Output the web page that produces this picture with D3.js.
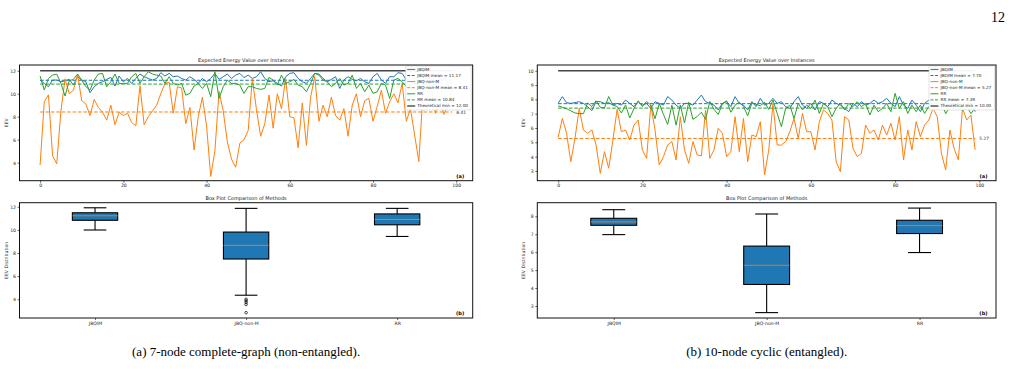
<!DOCTYPE html>
<html>
<head>
<meta charset="utf-8">
<script src="https://cdn.jsdelivr.net/npm/d3@7"></script>
<style>
  body { margin: 0; background: #fff; }
  svg { display: block; }
</style>
</head>
<body>
<div class="figure"></div>
<script>
const methods = ['JBQIM', 'JBQ-non-M', 'RR'];
const colors = ['#1f77b4', '#ff7f0e', '#2ca02c'];

// (a) 7-node complete graph, EEV per instance
const aJBQIM = [11.19, 10.90, 10.61, 11.19, 11.19, 11.04, 11.13, 11.25, 10.75, 11.48,
  11.19, 11.04, 10.09, 10.61, 10.90, 11.04, 11.25, 11.42, 10.67, 11.54,
  11.04, 11.33, 10.90, 11.33, 11.71, 11.48, 11.33, 11.19, 11.33, 11.83,
  11.54, 11.77, 11.48, 11.54, 11.33, 11.19, 11.48, 11.25, 10.90, 11.33,
  11.04, 11.33, 11.77, 11.25, 11.48, 11.71, 11.33, 11.62, 11.77, 11.40,
  11.62, 11.33, 11.48, 11.91, 11.33, 11.04, 11.13, 10.90, 10.67, 11.48,
  11.77, 11.83, 11.33, 11.04, 10.90, 11.33, 11.77, 11.71, 11.33, 11.04,
  11.25, 11.48, 10.46, 11.19, 11.48, 11.25, 11.13, 11.33, 11.04, 10.90,
  11.48, 11.77, 11.19, 10.90, 11.48, 11.48, 11.83, 11.77, 11.20, 11.00,
  11.40, 11.10, 10.90, 11.30, 11.50, 11.00, 11.20, 11.40, 11.10, 11.30];
const aNonM = [3.8, 9.3, 9.9, 4.6, 3.9, 8.5, 11.3, 10.0, 10.3, 11.7,
  9.4, 9.1, 8.1, 9.5, 8.8, 8.4, 7.7, 9.0, 7.3, 8.4,
  8.1, 8.3, 7.5, 7.2, 10.7, 7.3, 8.0, 8.5, 9.0, 10.0,
  10.9, 11.0, 8.3, 10.6, 10.5, 7.4, 8.8, 5.1, 8.0, 9.7,
  7.2, 2.8, 5.0, 10.2, 8.5, 5.8, 4.3, 3.6, 5.7, 6.0,
  6.8, 11.3, 8.6, 6.3, 7.4, 9.9, 7.0, 10.0, 8.7, 11.3,
  8.0, 7.9, 5.3, 9.2, 5.5, 9.7, 11.5, 7.6, 9.0, 8.0,
  9.7, 8.1, 7.7, 8.7, 6.3, 9.0, 10.0, 8.0, 9.4, 9.6,
  7.6, 8.9, 10.3, 8.3, 9.3, 10.0, 9.2, 10.9, 7.6, 8.7,
  6.4, 4.1, 10.0, 9.5, 10.5, 8.3, 9.8, 8.2, 9.0, 10.5];
const aRR = [11.54, 10.32, 11.33, 11.62, 11.71, 10.90, 9.80, 11.13, 11.25, 11.71,
  11.19, 10.61, 10.32, 11.19, 11.71, 11.77, 10.61, 11.04, 11.71, 10.90,
  10.90, 10.90, 11.48, 11.77, 10.90, 11.48, 11.91, 11.71, 11.62, 11.54,
  10.90, 11.48, 10.90, 10.75, 10.90, 9.88, 10.03, 10.67, 10.90, 10.46,
  10.90, 9.74, 11.91, 9.59, 10.61, 11.19, 10.90, 10.90, 10.75, 10.03,
  10.61, 10.61, 10.46, 10.38, 10.46, 11.42, 11.19, 10.75, 11.62, 10.90,
  11.04, 11.25, 10.75, 10.61, 10.17, 10.90, 11.77, 11.62, 11.19, 11.04,
  10.61, 10.90, 11.33, 10.75, 10.90, 11.62, 10.46, 10.90, 10.17, 10.75,
  10.03, 10.17, 10.90, 10.75, 9.59, 11.19, 11.33, 11.04, 10.61, 10.80,
  11.00, 10.60, 11.20, 10.90, 10.70, 11.10, 10.80, 11.30, 10.90, 11.00];

// (b) 10-node cyclic, EEV per instance
const bJBQIM = [7.72, 8.19, 7.77, 7.72, 7.77, 7.84, 7.72, 7.49, 7.21, 7.84,
  7.84, 7.72, 7.77, 7.60, 7.72, 7.60, 7.95, 7.72, 7.49, 7.84,
  7.60, 7.72, 7.37, 7.84, 7.72, 7.60, 8.19, 7.95, 7.60, 7.37,
  7.72, 7.72, 7.60, 7.95, 8.30, 7.84, 7.72, 7.60, 7.26, 7.72,
  7.84, 7.49, 8.19, 7.72, 7.60, 7.26, 7.84, 7.49, 8.07, 7.60,
  7.72, 8.07, 7.72, 7.84, 7.49, 7.37, 7.84, 8.19, 7.60, 7.37,
  7.72, 7.26, 7.84, 7.72, 7.49, 7.95, 7.72, 7.60, 7.37, 7.14,
  7.72, 7.49, 7.84, 7.60, 7.72, 7.95, 7.72, 7.84, 8.07, 7.72,
  7.49, 8.19, 7.60, 7.37, 7.95, 7.60, 7.14, 7.72, 7.95, 7.60,
  7.80, 7.50, 7.90, 7.70, 7.60, 7.80, 7.50, 7.70, 7.90, 7.14];
const bNonM = [5.35, 6.67, 5.63, 3.65, 5.28, 7.37, 5.86, 5.63, 5.86, 4.81,
  2.84, 4.35, 3.19, 5.16, 7.30, 5.74, 5.86, 5.16, 6.20, 6.56,
  4.47, 3.88, 7.60, 5.86, 3.42, 4.00, 4.81, 5.05, 3.77, 6.79,
  4.47, 3.53, 5.05, 4.12, 4.05, 7.26, 3.88, 4.47, 5.98, 5.63,
  4.00, 4.35, 6.79, 4.35, 6.67, 3.65, 5.51, 5.40, 6.44, 2.72,
  4.47, 7.72, 4.81, 4.81, 5.05, 5.74, 6.67, 5.28, 7.02, 5.74,
  5.74, 4.47, 6.44, 7.26, 7.02, 6.56, 3.65, 2.95, 6.79, 6.56,
  4.58, 4.00, 4.23, 6.20, 5.63, 5.86, 5.16, 6.20, 5.51, 6.33,
  5.16, 6.79, 3.77, 5.86, 4.47, 6.44, 5.40, 6.20, 6.56, 7.37,
  6.79, 4.23, 3.07, 5.86, 4.58, 3.77, 7.37, 6.56, 6.90, 4.47];
const bRR = [7.55, 7.45, 7.35, 7.20, 7.05, 7.00, 7.00, 7.75, 7.50, 7.90,
  7.45, 7.40, 8.20, 7.60, 7.50, 7.05, 7.60, 6.70, 7.35, 7.90,
  7.50, 7.85, 7.60, 6.65, 7.70, 6.95, 6.25, 7.60, 6.20, 7.60,
  6.35, 7.80, 6.60, 6.80, 7.10, 6.60, 7.85, 7.30, 6.95, 7.70,
  7.90, 7.10, 7.60, 7.80, 7.50, 6.85, 7.75, 7.65, 7.55, 7.80,
  7.30, 7.95, 7.02, 6.09, 7.37, 7.60, 6.67, 7.72, 7.26, 7.60,
  7.37, 7.95, 7.02, 7.72, 7.49, 6.79, 7.37, 7.72, 7.26, 7.72,
  7.49, 7.84, 7.49, 7.72, 6.91, 7.60, 7.14, 7.37, 7.72, 7.14,
  8.42, 7.37, 7.84, 7.02, 7.60, 7.14, 7.60, 7.02, 7.49, 7.60,
  7.30, 7.80, 7.00, 7.50, 7.40, 7.70, 7.20, 7.50, 7.00, 7.40];

const aMeans = [11.17, 8.41, 10.84];
const bMeans = [7.70, 5.27, 7.39];
const theoMin = [12.00, 10.00];

// box stats: [lower whisker, q1, median, q3, upper whisker]
const aBoxStats = [
  [9.99, 10.83, 11.22, 11.48, 11.91],
  [4.35, 7.48, 8.66, 9.81, 11.86],
  [9.43, 10.44, 10.90, 11.38, 11.86]
];
const aFliers = [[], [4.00, 3.86, 3.72, 3.55, 2.84], []];
const bBoxStats = [
  [6.98, 7.50, 7.69, 7.89, 8.37],
  [2.63, 4.20, 5.27, 6.34, 8.13],
  [5.98, 7.04, 7.48, 7.78, 8.46]
];
const bFliers = [[], [], []];

const xTicks = [0, 20, 40, 60, 80, 100];
const aLineTicks = [4, 6, 8, 10, 12];
const bLineTicks = [3, 4, 5, 6, 7, 8, 9, 10];
const aBoxTicks = [4, 6, 8, 10, 12];
const bBoxTicks = [3, 4, 5, 6, 7, 8];
const captions = ['(a) 7-node complete-graph (non-entangled).', '(b) 10-node cyclic (entangled).'];

const width = 1011,
  height = 369,
  lineTop = 65,
  lineBottom = 180.7,
  boxTop = 202.7,
  boxBottom = 318,
  font = 'DejaVu Sans, sans-serif';

const panels = [
  { series: [aJBQIM, aNonM, aRR], means: aMeans, tmin: theoMin[0], lineTicks: aLineTicks,
    lineY: [2.43, 12.5], box: aBoxStats, fliers: aFliers, boxTicks: aBoxTicks, boxY: [2.38, 12.35],
    left: 19.5, right: 472.7, labelX: 8, caption: captions[0] },
  { series: [bJBQIM, bNonM, bRR], means: bMeans, tmin: theoMin[1], lineTicks: bLineTicks,
    lineY: [2.32, 10.4], box: bBoxStats, fliers: bFliers, boxTicks: bBoxTicks, boxY: [2.33, 8.76],
    left: 537.3, right: 996, labelX: 525, caption: captions[1] }
];

const svg = d3.select('.figure')
  .append('svg')
  .attr('width', width)
  .attr('height', height);

function styleAxis(sel) {
  sel.select('.domain').remove();
  sel.selectAll('line').attr('stroke', '#000').attr('stroke-width', 0.6);
  sel.selectAll('text').style('font', `4.6px ${font}`).attr('fill', '#222');
}

function drawLines(p) {
  const g = svg.append('g');
  const x = d3.scaleLinear().domain([-4.95, 103.95]).range([p.left, p.right]);
  const y = d3.scaleLinear().domain(p.lineY).range([lineBottom, lineTop]);
  const mid = (p.left + p.right) / 2;

  g.append('g')
    .attr('transform', `translate(0, ${lineBottom})`)
    .call(d3.axisBottom(x).tickValues(xTicks).tickFormat(d3.format('d')).tickSize(2).tickPadding(1.5))
    .call(styleAxis);
  g.append('g')
    .attr('transform', `translate(${p.left}, 0)`)
    .call(d3.axisLeft(y).tickValues(p.lineTicks).tickFormat(d3.format('d')).tickSize(2).tickPadding(1.5))
    .call(styleAxis);

  const line = d3.line().x((d, i) => x(i)).y(d => y(d));
  const n = p.series[0].length;

  p.series.forEach((s, k) => {
    g.append('path')
      .datum(s)
      .attr('d', line)
      .attr('fill', 'none')
      .attr('stroke', colors[k])
      .attr('stroke-width', 1)
      .attr('stroke-linejoin', 'round');
    g.append('line')
      .attr('x1', x(0)).attr('x2', x(n - 1))
      .attr('y1', y(p.means[k])).attr('y2', y(p.means[k]))
      .attr('stroke', colors[k])
      .attr('stroke-width', 1)
      .attr('stroke-dasharray', '3.6,1.8');
  });

  // only the JBQ-non-M mean label is visible; the others sit under the legend
  g.append('text')
    .attr('x', x(100))
    .attr('y', y(p.means[1]))
    .attr('dy', '0.35em')
    .style('font', `4.4px ${font}`)
    .attr('fill', '#333')
    .text(p.means[1].toFixed(2));

  g.append('line')
    .attr('x1', x(0)).attr('x2', x(n - 1))
    .attr('y1', y(p.tmin)).attr('y2', y(p.tmin))
    .attr('stroke', '#444')
    .attr('stroke-width', 1.6);

  // legend
  const entries = [];
  methods.forEach((m, k) => {
    entries.push({ label: m, color: colors[k], dash: null });
    entries.push({ label: `${m} mean = ${p.means[k].toFixed(2)}`, color: colors[k], dash: '3,1.5' });
  });
  entries.push({ label: `Theoretical min = ${p.tmin.toFixed(2)}`, color: '#000', dash: null });

  const lx = p.right - 67, ly = 66;
  const legend = g.append('g');
  legend.append('rect')
    .attr('x', lx).attr('y', ly)
    .attr('width', 65.5).attr('height', 44)
    .attr('rx', 1)
    .attr('fill', '#fff')
    .attr('fill-opacity', 0.95)
    .attr('stroke', '#d0d0d0')
    .attr('stroke-width', 0.6);
  entries.forEach((e, k) => {
    const ey = ly + 3.4 + k * 6.1;
    legend.append('line')
      .attr('x1', lx + 1.5).attr('x2', lx + 9.5)
      .attr('y1', ey).attr('y2', ey)
      .attr('stroke', e.color)
      .attr('stroke-width', 1)
      .attr('stroke-dasharray', e.dash);
    legend.append('text')
      .attr('x', lx + 11.5)
      .attr('y', ey)
      .attr('dy', '0.35em')
      .style('font', `4.2px ${font}`)
      .attr('fill', '#222')
      .text(e.label);
  });

  g.append('rect')
    .attr('x', p.left).attr('y', lineTop)
    .attr('width', p.right - p.left).attr('height', lineBottom - lineTop)
    .attr('fill', 'none')
    .attr('stroke', '#111')
    .attr('stroke-width', 1);

  g.append('text')
    .attr('x', mid).attr('y', lineTop - 2.6)
    .attr('text-anchor', 'middle')
    .style('font', `5px ${font}`)
    .attr('fill', '#222')
    .text('Expected Energy Value over Instances');

  g.append('text')
    .attr('transform', `translate(${p.labelX}, ${(lineTop + lineBottom) / 2}) rotate(-90)`)
    .attr('text-anchor', 'middle')
    .style('font', `4.6px ${font}`)
    .attr('fill', '#222')
    .text('EEV');

  g.append('text')
    .attr('x', p.right - 8.5).attr('y', lineBottom - 3.2)
    .attr('text-anchor', 'end')
    .style('font', `bold 5px ${font}`)
    .text('(a)');
}

function drawBoxes(p) {
  const g = svg.append('g');
  const x = d3.scaleLinear().domain([0.5, 3.5]).range([p.left, p.right]);
  const y = d3.scaleLinear().domain(p.boxY).range([boxBottom, boxTop]);
  const mid = (p.left + p.right) / 2;

  g.append('g')
    .attr('transform', `translate(0, ${boxBottom})`)
    .call(d3.axisBottom(x).tickValues([1, 2, 3]).tickFormat((d, i) => methods[i]).tickSize(2).tickPadding(1.5))
    .call(styleAxis);
  g.append('g')
    .attr('transform', `translate(${p.left}, 0)`)
    .call(d3.axisLeft(y).tickValues(p.boxTicks).tickFormat(d3.format('d')).tickSize(2).tickPadding(1.5))
    .call(styleAxis);

  p.box.forEach((b, k) => {
    const c = k + 1;
    const [lo, q1, med, q3, hi] = b;
    [[lo, q1], [q3, hi]].forEach(([a, z]) => {
      g.append('line')
        .attr('x1', x(c)).attr('x2', x(c))
        .attr('y1', y(a)).attr('y2', y(z))
        .attr('stroke', '#000').attr('stroke-width', 1.1);
    });
    [lo, hi].forEach(v => {
      g.append('line')
        .attr('x1', x(c - 0.075)).attr('x2', x(c + 0.075))
        .attr('y1', y(v)).attr('y2', y(v))
        .attr('stroke', '#000').attr('stroke-width', 1.1);
    });
    g.append('rect')
      .attr('x', x(c - 0.15)).attr('y', y(q3))
      .attr('width', x(c + 0.15) - x(c - 0.15)).attr('height', y(q1) - y(q3))
      .attr('fill', '#1f77b4')
      .attr('stroke', '#000')
      .attr('stroke-width', 1.1);
    g.append('line')
      .attr('x1', x(c - 0.15)).attr('x2', x(c + 0.15))
      .attr('y1', y(med)).attr('y2', y(med))
      .attr('stroke', '#ff7f0e').attr('stroke-width', 0.8);
    g.selectAll(null)
      .data(p.fliers[k])
      .enter()
      .append('circle')
      .attr('cx', x(c)).attr('cy', d => y(d))
      .attr('r', 1.3)
      .attr('fill', 'none')
      .attr('stroke', '#000')
      .attr('stroke-width', 0.7);
  });

  g.append('rect')
    .attr('x', p.left).attr('y', boxTop)
    .attr('width', p.right - p.left).attr('height', boxBottom - boxTop)
    .attr('fill', 'none')
    .attr('stroke', '#111')
    .attr('stroke-width', 1);

  g.append('text')
    .attr('x', mid).attr('y', boxTop - 2.6)
    .attr('text-anchor', 'middle')
    .style('font', `5px ${font}`)
    .attr('fill', '#222')
    .text('Box Plot Comparison of Methods');

  g.append('text')
    .attr('transform', `translate(${p.labelX}, ${(boxTop + boxBottom) / 2}) rotate(-90)`)
    .attr('text-anchor', 'middle')
    .style('font', `4.6px ${font}`)
    .attr('fill', '#222')
    .text('EEV Distribution');

  g.append('text')
    .attr('x', p.right - 8.5).attr('y', boxBottom - 3.2)
    .attr('text-anchor', 'end')
    .style('font', `bold 5px ${font}`)
    .text('(b)');

  svg.append('text')
    .attr('x', mid).attr('y', 356)
    .attr('text-anchor', 'middle')
    .attr('font-family', 'Liberation Serif, serif')
    .attr('font-size', 13)
    .attr('fill', '#000')
    .text(p.caption);
}

panels.forEach(p => {
  drawLines(p);
  drawBoxes(p);
});

svg.append('text')
  .attr('x', 1005).attr('y', 21.5)
  .attr('text-anchor', 'end')
  .attr('font-family', 'Liberation Serif, serif')
  .attr('font-size', 14)
  .text('12');
</script>
</body>
</html>
